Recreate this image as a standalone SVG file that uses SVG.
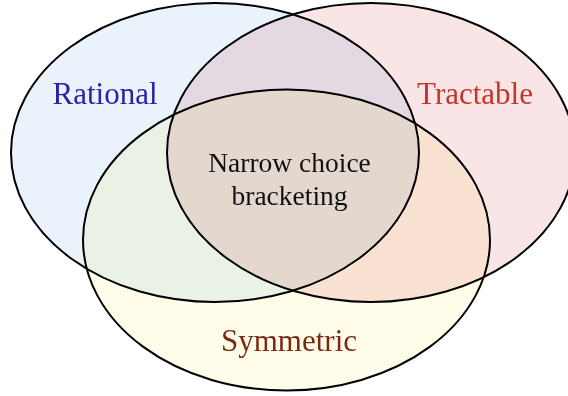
<svg xmlns="http://www.w3.org/2000/svg" width="568" height="396" viewBox="0 0 568 396">
<style>
.fill{stroke:none;mix-blend-mode:multiply}
.edge{fill:none;stroke:#000;stroke-width:2}
text{font-family:"Liberation Serif","Times New Roman",serif;text-anchor:middle}
.lab{font-size:31px}
.mid{font-size:27.5px;fill:#111}
</style>
<rect width="568" height="396" fill="#fff"/>
<g id="fills" style="isolation:isolate">
<ellipse class="fill" cx="215" cy="152.5" rx="204" ry="149.5" fill="#eaf3fb"/>
<ellipse class="fill" cx="371" cy="152.5" rx="204" ry="149.5" fill="#f9e4e6"/>
<ellipse class="fill" cx="286.5" cy="240" rx="203.5" ry="150.5" fill="#fffde9"/>
</g>
<g id="rational"><ellipse class="edge" cx="215" cy="152.5" rx="204" ry="149.5"/><text class="lab" x="105" y="104" fill="#2a22a8">Rational</text></g>
<g id="tractable"><ellipse class="edge" cx="371" cy="152.5" rx="204" ry="149.5"/><text class="lab" x="475" y="104" fill="#c5352a">Tractable</text></g>
<g id="symmetric"><ellipse class="edge" cx="286.5" cy="240" rx="203.5" ry="150.5"/><text class="lab" x="289" y="351" fill="#7a2a12">Symmetric</text></g>
<g id="center"><text class="mid" x="289.5" y="172">Narrow choice</text><text class="mid" x="289.5" y="205">bracketing</text></g>
<g id="connectors"/>
</svg>
